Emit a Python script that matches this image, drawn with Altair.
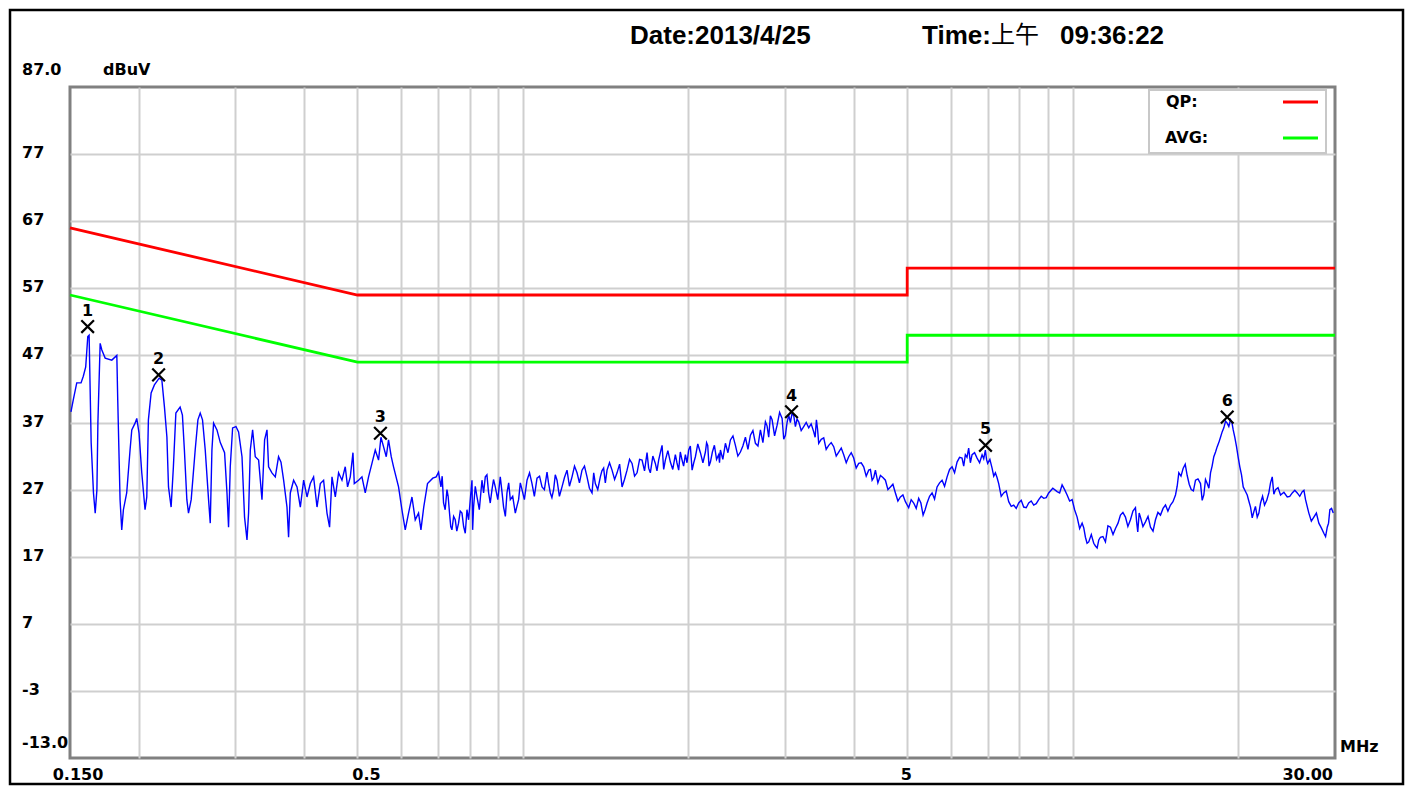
import altair as alt
import pandas as pd

# ---------------- data ----------------
trace_freq = [
    0.1506, 0.1521, 0.1543, 0.1571, 0.1586, 0.1602, 0.1616, 0.1625, 0.1639, 0.1655,
    0.1667, 0.1679, 0.1686, 0.1702, 0.1714, 0.1738, 0.1787, 0.1825, 0.1832, 0.1850,
    0.1863, 0.1876, 0.1902, 0.1929, 0.1943, 0.1970, 0.1984, 0.2003, 0.2026, 0.2054,
    0.2069, 0.2083, 0.2107, 0.2136, 0.2179, 0.2204, 0.2228, 0.2251, 0.2266, 0.2291,
    0.2313, 0.2337, 0.2379, 0.2402, 0.2422, 0.2447, 0.2464, 0.2492, 0.2534, 0.2563,
    0.2588, 0.2613, 0.2643, 0.2680, 0.2699, 0.2718, 0.2737, 0.2776, 0.2815, 0.2866,
    0.2895, 0.2914, 0.2935, 0.2964, 0.3006, 0.3039, 0.3083, 0.3116, 0.3148, 0.3169,
    0.3192, 0.3223, 0.3259, 0.3305, 0.3352, 0.3389,
    0.3423, 0.3446, 0.3495, 0.3544, 0.3593, 0.3630, 0.3670, 0.3722, 0.3747, 0.3774,
    0.3827, 0.3882, 0.3936, 0.3991, 0.4048, 0.4104, 0.4161, 0.4221, 0.4280, 0.4339,
    0.4401, 0.4449, 0.4494, 0.4557, 0.4620, 0.4686, 0.4751, 0.4797, 0.4852, 0.4907,
    0.4934, 0.5023, 0.5095, 0.5166, 0.5238, 0.5313, 0.5387, 0.5462, 0.5517, 0.5577,
    0.5641, 0.5695, 0.5760, 0.5816, 0.5939, 0.6024, 0.6108, 0.6193, 0.6282, 0.6369,
    0.6458, 0.6523,
    0.6600, 0.6705, 0.6855, 0.6953, 0.7022, 0.7093, 0.7171, 0.7274, 0.7353, 0.7427,
    0.7531, 0.7636, 0.7746, 0.7854, 0.7964, 0.8078, 0.8132, 0.8249, 0.8423, 0.8541,
    0.8660, 0.8784, 0.8906, 0.9094, 0.9221, 0.9353, 0.9484, 0.9685, 0.9820, 0.9961,
    1.0172, 1.0387, 1.0607, 1.0832, 1.1061, 1.1215, 1.1371, 1.1534, 1.1778, 1.2027,
    1.2282, 1.2542, 1.2807, 1.3078, 1.3355, 1.3541, 1.3828, 1.4021, 1.4222, 1.4523,
    1.4831, 1.5145, 1.5465, 1.5793, 1.6127, 1.6469, 1.6817, 1.7051, 1.7412, 1.7655,
    1.7908, 1.8157, 1.8542, 1.8934, 1.9199, 1.9474, 1.9746, 2.0021, 2.0309, 2.0592,
    2.1028, 2.1473, 2.1681, 2.1928, 2.2298, 2.2704,
    2.2866, 2.3350, 2.3844, 2.4349, 2.4864, 2.5391, 2.5928, 2.6477, 2.7037, 2.7609,
    2.7993, 2.8394, 2.8995, 2.9609, 3.0021, 3.0439, 3.0875, 3.1305, 3.1741, 3.2413,
    3.3099, 3.3799, 3.4183, 3.4514, 3.5245, 3.5990, 3.6752, 3.7530, 3.8324, 3.9134,
    3.9962, 4.0808, 4.1671, 4.2553, 4.3164, 4.3765, 4.4691, 4.5637, 4.6602, 4.7588,
    4.8595, 4.9623, 5.031, 5.138, 5.246, 5.344, 5.434, 5.549, 5.666, 5.786,
    5.909, 6.034, 6.161, 6.291, 6.379, 6.468, 6.561, 6.700, 6.842, 6.937,
    7.004, 7.134, 7.234, 7.335, 7.490, 7.649, 7.811, 7.976, 8.145, 8.317,
    8.493, 8.673, 8.857, 9.044,
    9.368, 9.566, 9.769, 9.976, 10.187, 10.403, 10.548, 10.695, 10.921, 11.078,
    11.232, 11.470, 11.713, 11.961, 12.214, 12.473, 12.737, 13.007, 13.133, 13.282,
    13.563, 13.851, 14.144, 14.444, 14.750, 15.062, 15.381, 15.596, 15.886, 16.154,
    16.427, 16.726, 17.080, 17.318, 17.566, 17.811, 18.058, 18.317, 18.572, 18.831,
    19.101, 19.367, 19.587, 19.860, 20.137, 20.425, 20.771, 21.060, 21.354, 21.660,
    21.962, 22.333, 22.739, 23.065, 23.387, 23.882, 24.562, 25.082, 25.613, 26.155,
    26.519, 26.888, 27.457, 28.038, 28.632, 29.043, 29.361, 29.782,
]
trace_level = [
    38.6, 40.4, 42.9, 42.9, 43.9, 45.3, 49.8, 50.0, 34.0, 26.5,
    23.5, 27.0, 37.0, 48.8, 47.8, 46.6, 46.3, 47.0, 40.4, 25.5,
    21.0, 24.0, 26.5, 32.9, 35.9, 36.9, 37.6, 35.4, 29.5, 24.0,
    25.9, 37.4, 41.4, 42.6, 43.6, 43.3, 39.3, 34.8, 27.4, 24.4,
    30.4, 38.4, 39.3, 38.1, 32.9, 25.5, 23.5, 25.5, 32.9, 37.4,
    38.4, 37.4, 32.9, 25.5, 22.0, 32.9, 36.9, 35.9, 34.0, 32.5,
    26.5, 21.4, 30.4, 36.2, 36.4, 35.6, 31.9, 22.9, 19.5, 23.5,
    32.9, 35.9, 31.9, 31.4, 25.5, 34.4,
    35.9, 30.4, 29.5, 28.9, 31.9, 31.1, 28.4, 24.4, 19.9, 26.5,
    28.4, 27.4, 24.4, 28.4, 25.9, 27.9, 28.9, 24.4, 27.9, 28.4,
    23.5, 21.4, 28.9, 25.9, 29.5, 28.4, 30.4, 27.4, 28.9, 32.5,
    27.9, 28.4, 28.9, 26.5, 28.9, 30.9, 32.9, 31.4, 34.8, 33.4,
    31.9, 34.4, 31.9, 30.4, 27.4, 24.0, 21.0, 23.5, 25.9, 22.5,
    23.5, 21.0,
    24.4, 27.9, 28.7, 28.9, 29.6, 27.4, 25.0, 27.0, 23.5, 21.0,
    22.5, 22.0, 23.5, 20.5, 22.5, 28.4, 24.4, 25.9, 28.4, 28.9,
    26.5, 27.0, 27.4, 28.9, 24.4, 26.5, 25.5, 23.5, 25.5, 27.0,
    28.4, 27.9, 28.7, 27.4, 29.6, 26.5, 27.0, 28.4, 27.4, 29.9,
    28.9, 29.5, 29.9, 28.9, 26.5, 27.9, 28.9, 30.2, 29.9, 29.9,
    29.5, 27.4, 29.9, 30.9, 29.5, 31.4, 32.5, 29.5, 30.9, 31.4,
    33.6, 31.4, 31.1, 32.2, 29.9, 31.4, 32.2, 32.9, 29.9, 31.9,
    32.5, 32.6, 33.6, 31.1, 33.6, 32.2,
    32.9, 33.9, 34.4, 33.6, 32.6, 34.8, 35.1, 33.9, 35.9, 37.1,
    34.8, 37.4, 36.6, 37.6, 35.1, 38.1, 38.4, 36.4, 37.1, 36.4,
    36.2, 35.6, 37.4, 33.9, 34.7, 33.6, 33.4, 32.6, 32.2, 31.9,
    31.7, 30.9, 30.4, 29.9, 28.4, 29.9, 29.1, 28.4, 27.4, 26.5,
    25.9, 25.2, 24.3, 25.0, 25.7, 23.2, 25.0, 26.5, 27.4, 28.4,
    28.9, 30.4, 31.1, 31.7, 32.2, 33.2, 32.2, 31.7, 32.2, 32.9,
    30.9, 30.2, 29.5, 27.9, 26.5, 25.2, 24.7, 25.0, 24.4, 25.0,
    24.7, 25.5, 25.7, 26.5,
    26.7, 27.7, 26.2, 25.5, 22.9, 22.0, 19.9, 19.2, 19.0, 18.3,
    19.9, 19.2, 21.4, 21.2, 23.2, 22.9, 22.5, 24.3, 20.7, 22.9,
    22.2, 21.4, 22.5, 23.2, 24.7, 24.7, 26.2, 29.5, 30.2, 29.1,
    27.0, 28.4, 27.9, 26.2, 27.9, 29.5, 31.9, 33.4, 34.8, 36.2,
    36.9, 37.4, 35.9, 33.4, 30.4, 27.4, 26.2, 24.4, 23.7, 22.9,
    25.0, 24.7, 26.5, 28.9, 27.0, 26.2, 25.9, 26.5, 26.5, 26.7,
    25.5, 23.5, 22.9, 22.0, 20.5, 21.4, 24.0, 23.5,
]

# fine-grained readings of the noise band between the main readings
detail_freq = [
    0.713, 0.722, 0.731, 0.739, 0.748, 0.758, 0.769, 0.780, 0.791, 0.803,
    0.810, 0.819, 0.833, 0.848, 0.860, 0.872, 0.884, 0.900, 0.915, 0.929,
    0.942, 0.958, 0.975, 0.989, 1.006, 1.028, 1.049, 1.072, 1.094, 1.113,
    1.129, 1.145, 1.165, 1.190, 1.215, 1.241, 1.267, 1.294, 1.321, 1.345,
    1.368, 1.392, 1.412, 1.437, 1.468, 1.499, 1.530, 1.563, 1.596, 1.630,
    1.664, 1.693, 1.723, 1.753, 1.778, 1.803, 1.835, 1.873, 1.906, 1.933,
    1.960, 1.988, 2.016, 2.045, 2.080, 2.125, 2.158, 2.180, 2.211, 2.250,
    2.278, 2.310, 2.360, 2.410, 2.460, 2.512, 2.566, 2.620, 2.676, 2.732,
    2.780, 2.819, 2.869, 2.930, 2.981, 3.023, 3.065, 3.109, 3.152, 3.207,
    3.275, 3.344, 3.400, 3.435, 3.488, 3.561, 3.637,
    3.714, 3.793, 3.873, 3.955, 4.038, 4.124, 4.211, 4.286, 4.346, 4.422,
    4.516, 4.612, 4.709, 4.809, 4.911,
    5.084, 5.192, 5.295, 5.389, 5.491, 5.607, 5.726, 5.847, 5.971, 6.097,
    6.226, 6.335, 6.423, 6.514, 6.630, 6.771, 6.889, 6.970, 7.069, 7.184,
    7.284, 7.412, 7.569, 7.730, 7.893, 8.060, 8.231, 8.405, 8.583, 8.765,
    8.950, 9.200,
    9.467, 9.667, 9.872, 10.08, 10.295, 10.475, 10.62, 10.81, 11.00, 11.155,
    11.35, 11.59, 11.84, 12.09, 12.34, 12.60, 12.87, 13.07, 13.21, 13.42,
    13.71, 14.00, 14.29, 14.60, 14.90, 15.22, 15.49, 15.74, 16.02, 16.29,
    16.58, 16.90, 17.20, 17.44, 17.69, 17.93, 18.19, 18.44, 18.70, 18.97,
    19.23, 19.48, 19.72, 20.00, 20.28, 20.60, 20.91, 21.21, 21.50, 21.81,
    22.15, 22.54, 22.90, 23.22, 23.63, 24.22, 24.82, 25.35, 25.88, 26.34,
    26.70, 27.17, 27.75, 28.33, 28.84, 29.20, 29.57,
]
detail_level = [
    29.0, 24.0, 26.0, 21.5, 23.0, 20.8, 23.8, 21.5, 24.0, 26.0,
    21.0, 27.5, 24.0, 26.5, 29.2, 25.0, 28.5, 25.5, 27.0, 23.0,
    28.0, 26.0, 24.5, 28.0, 25.5, 29.5, 26.0, 29.0, 27.0, 28.0,
    25.8, 29.2, 26.0, 28.8, 27.5, 30.5, 28.0, 30.5, 27.2, 29.5,
    27.0, 29.8, 28.0, 31.0, 28.5, 30.8, 28.5, 31.5, 29.0, 31.5,
    29.8, 30.2, 32.0, 29.8, 32.5, 30.0, 32.8, 30.0, 31.0, 32.6,
    30.5, 31.0, 33.5, 31.0, 33.8, 31.0, 34.0, 30.5, 32.6, 31.5,
    31.0, 31.5, 32.5, 35.0, 32.0, 33.5, 33.0, 35.8, 33.5, 34.0,
    36.5, 38.0, 35.0, 38.5, 34.5, 37.0, 37.0, 38.0, 37.5, 35.8,
    37.0, 36.8, 34.8, 36.0, 34.5, 33.0, 34.0,
    32.0, 33.2, 31.0, 32.5, 30.2, 31.0, 29.0, 30.0, 28.8, 28.0,
    28.8, 27.0, 27.8, 25.3, 26.2,
    25.5, 24.2, 25.0, 24.0, 26.0, 25.6, 28.0, 27.5, 30.0, 29.5,
    31.8, 30.5, 31.8, 31.0, 32.5, 31.0, 31.6, 31.5, 31.5, 29.0,
    28.8, 26.0, 26.8, 24.5, 24.2, 25.4, 24.3, 25.3, 24.9, 26.0,
    25.8, 27.2,
    26.5, 27.0, 25.3, 24.0, 21.2, 21.3, 19.0, 20.3, 18.6, 19.5,
    20.0, 21.6, 20.3, 22.0, 23.6, 21.5, 23.8, 22.2, 23.5, 21.5,
    23.0, 20.8, 23.6, 24.2, 23.8, 25.2, 27.5, 29.0, 30.8, 27.8,
    26.8, 28.6, 25.4, 28.5, 27.2, 30.5, 32.6, 34.0, 35.6, 37.2,
    36.4, 37.0, 34.8, 31.8, 29.2, 26.8, 25.3, 22.8, 24.5, 23.5,
    26.0, 25.4, 28.0, 26.3, 27.3, 26.6, 26.0, 26.9, 26.0, 26.9,
    24.5, 22.3, 23.5, 21.3, 20.0, 22.0, 24.2,
]

qp_freq = [0.15, 0.5, 5, 5, 30]
qp_level = [66, 56, 56, 60, 60]
avg_freq = [0.15, 0.5, 5, 5, 30]
avg_level = [56, 46, 46, 50, 50]

marker_id = ["1", "2", "3", "4", "5", "6"]
marker_freq = [0.1615, 0.2174, 0.5505, 3.08, 6.94, 19.1]
marker_level = [51.3, 44.1, 35.4, 38.6, 33.6, 37.8]

y_grid = [-3, 7, 17, 27, 37, 47, 57, 67, 77]
y_mid_labels = ["-3", "7", "17", "27", "37", "47", "57", "67", "77"]
x_grid = [0.2, 0.3, 0.4, 0.5, 0.6, 0.7, 0.8, 0.9, 1, 2, 3, 4, 5, 6, 7, 8, 9, 10, 20]

X_MIN, X_MAX = 0.15, 30
Y_MIN, Y_MAX = -13, 87

# ---------------- chart ----------------
W, H = 1265, 671
FONT = "DejaVu Sans"
xs = alt.Scale(type="log", domain=[X_MIN, X_MAX], nice=False)
ys = alt.Scale(domain=[Y_MIN, Y_MAX], nice=False, zero=False)

trace_df = pd.DataFrame({"f": trace_freq + detail_freq, "v": trace_level + detail_level})
trace_df = trace_df.sort_values("f").reset_index(drop=True)
qp_df = pd.DataFrame({"f": qp_freq, "v": qp_level, "i": range(len(qp_freq))})
avg_df = pd.DataFrame({"f": avg_freq, "v": avg_level, "i": range(len(avg_freq))})
mk_df = pd.DataFrame({"id": marker_id, "f": marker_freq, "v": marker_level})
ylab_df = pd.DataFrame({"v": y_grid, "t": y_mid_labels})
one = pd.DataFrame({"a": [0]})

x_axis = alt.Axis(values=x_grid, grid=True, labels=False, ticks=False, domain=False,
                  title=None, gridColor="#cfcfcf", gridWidth=2, gridOpacity=1)
y_axis = alt.Axis(values=y_grid, grid=True, labels=False, ticks=False, domain=False,
                  title=None, gridColor="#cfcfcf", gridWidth=2, gridOpacity=1)


def X(field="f:Q"):
    return alt.X(field, scale=xs, axis=x_axis)


def Y(field="v:Q"):
    return alt.Y(field, scale=ys, axis=y_axis)


trace = alt.Chart(trace_df).mark_line(color="#0000ff", strokeWidth=1.4).encode(
    x=X(), y=Y(), order="f:Q")

qp = alt.Chart(qp_df).mark_line(color="#ff0000", strokeWidth=2.8).encode(
    x=X(), y=Y(), order="i:Q")
avg = alt.Chart(avg_df).mark_line(color="#00ff00", strokeWidth=2.8).encode(
    x=X(), y=Y(), order="i:Q")

marks = alt.Chart(mk_df).mark_point(shape="M-1,-1L1,1M-1,1L1,-1", filled=False, stroke="black",
                                    strokeWidth=2.2, size=160, opacity=1).encode(x=X(), y=Y())
mark_nums = alt.Chart(mk_df).mark_text(font=FONT, fontSize=16, fontWeight="bold", dy=-16,
                                       color="black").encode(x=X(), y=Y(), text="id:N")

lab_style = dict(font=FONT, fontSize=16, fontWeight="bold", color="black")

ylabs = alt.Chart(ylab_df).mark_text(align="left", baseline="middle", dy=-1, **lab_style).encode(
    x=alt.value(-48), y=Y(), text="t:N")


def ytxt(val, s, dy):
    return alt.Chart(pd.DataFrame({"v": [val]})).mark_text(
        text=s, align="left", baseline="middle", dy=dy, **lab_style).encode(
        x=alt.value(-48), y=Y())


def xtxt(val, s, align, dx):
    return alt.Chart(pd.DataFrame({"f": [val]})).mark_text(
        text=s, align=align, baseline="middle", dx=dx, **lab_style).encode(
        x=X(), y=alt.value(H + 17))


def txt(s, x, y, **kw):
    return alt.Chart(one).mark_text(text=s, baseline="middle", **kw).encode(
        x=alt.value(x), y=alt.value(y))


y_top = ytxt(Y_MAX, "87.0", -17)
y_bot = ytxt(Y_MIN, "-13.0", -15)
x_l1 = xtxt(X_MIN, "0.150", "center", 8)
x_l2 = xtxt(0.5, "0.5", "center", 9)
x_l3 = xtxt(5, "5", "center", -1)
x_l4 = xtxt(X_MAX, "30.00", "right", -2)

unit_y = txt("dBuV", 33, -17, align="left", **lab_style)
unit_x = txt("MHz", 1270, 660, align="left", **lab_style)

hdr_style = dict(font="Liberation Sans", fontSize=26, fontWeight="bold", color="black", align="left")
hdr_date = txt("Date:2013/4/25", 560, -51, **hdr_style)
hdr_time = txt("Time:", 852, -51, **hdr_style)
hdr_am = txt("上午", 921, -51, align="left", font="Noto Sans CJK SC", fontSize=24,
             fontWeight="normal", color="black")
hdr_clock = txt("09:36:22", 990, -51, **hdr_style)

leg_box = alt.Chart(one).mark_rect(fill="white", stroke="#c8c8c8", strokeWidth=2).encode(
    x=alt.value(1079), x2=alt.value(1256), y=alt.value(3), y2=alt.value(66))
leg_qp = txt("QP:", 1096, 15, align="left", **lab_style)
leg_avg = txt("AVG:", 1095, 51, align="left", **lab_style)
leg_qp_line = alt.Chart(one).mark_rule(color="#ff0000", strokeWidth=3).encode(
    x=alt.value(1213), x2=alt.value(1248), y=alt.value(15))
leg_avg_line = alt.Chart(one).mark_rule(color="#00ff00", strokeWidth=3).encode(
    x=alt.value(1213), x2=alt.value(1248), y=alt.value(51))

frame = alt.Chart(one).mark_rect(fill=None, stroke="black", strokeWidth=2.5).encode(
    x=alt.value(-60), x2=alt.value(W + 68), y=alt.value(-77), y2=alt.value(H + 26))

chart = alt.layer(
    trace, qp, avg, marks, mark_nums, ylabs, y_top, y_bot, x_l1, x_l2, x_l3, x_l4,
    unit_y, unit_x, hdr_date, hdr_time, hdr_am, hdr_clock,
    leg_box, leg_qp, leg_avg, leg_qp_line, leg_avg_line, frame,
).properties(
    width=W, height=H,
    autosize=alt.AutoSizeParams(type="none"),
    padding={"left": 62, "top": 79, "right": 70, "bottom": 28},
    background="white",
).configure_view(stroke="#808080", strokeWidth=3)

chart.save("out.html", embed_options={"renderer": "svg", "actions": False})
